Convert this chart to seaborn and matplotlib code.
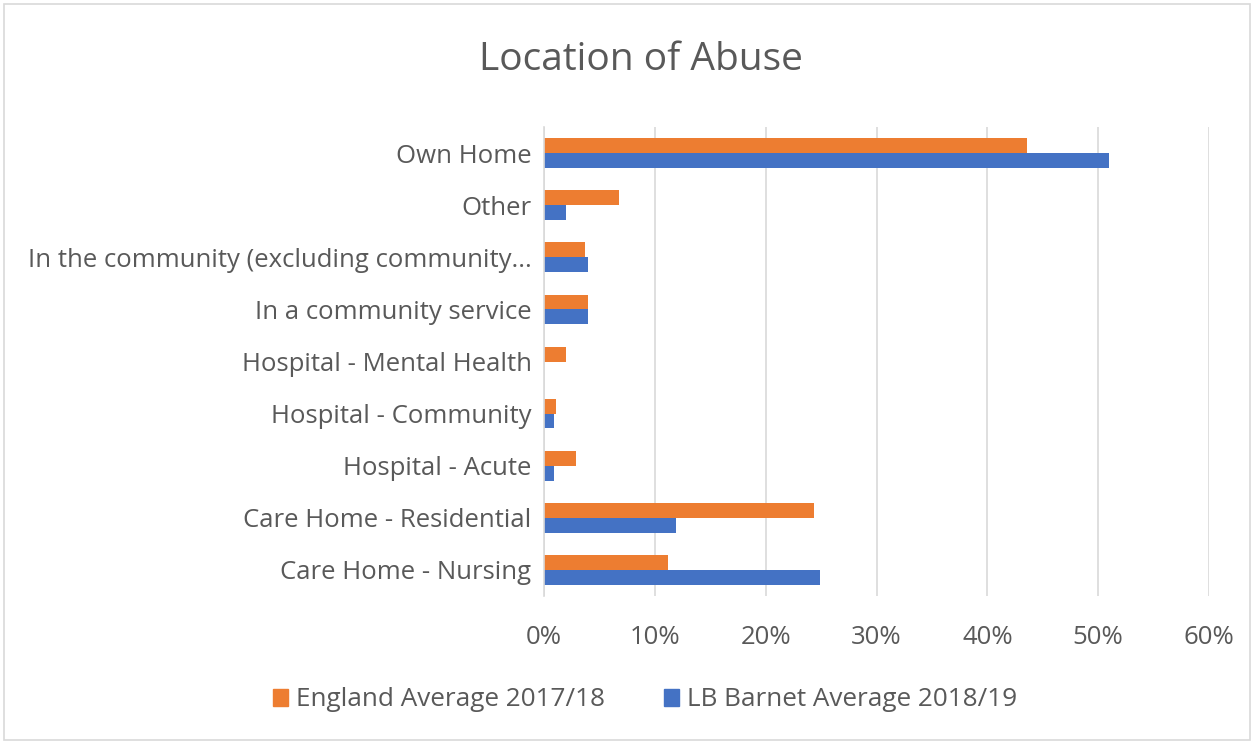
import matplotlib
matplotlib.use("Agg")
import matplotlib.pyplot as plt
import matplotlib.patches as mpatches
from matplotlib.ticker import PercentFormatter, MultipleLocator
import pandas as pd
import seaborn as sns

locations = [
    "Own Home",
    "Other",
    "In the community (excluding community...",
    "In a community service",
    "Hospital - Mental Health",
    "Hospital - Community",
    "Hospital - Acute",
    "Care Home - Residential",
    "Care Home - Nursing",
]
england_2017_18 = [43.6, 6.8, 3.7, 4.0, 2.0, 1.1, 2.9, 24.4, 11.2]
barnet_2018_19 = [51.0, 2.0, 4.0, 4.0, 0.0, 0.9, 0.9, 11.9, 24.9]
series_names = ["England Average 2017/18", "LB Barnet Average 2018/19"]
colors = ["#ED7D31", "#4472C4"]

df = pd.DataFrame({
    "Location": locations * 2,
    "Share": england_2017_18 + barnet_2018_19,
    "Series": [series_names[0]] * len(locations) + [series_names[1]] * len(locations),
})

sns.set_theme(style="white")
plt.rcParams["font.family"] = ["Open Sans", "DejaVu Sans"]
text_color = "#595959"
label_size = 18.5

fig = plt.figure(figsize=(12.54, 7.44), dpi=100)
ax = fig.add_axes([544 / 1254, 1 - 596 / 744, (1209 - 544) / 1254, (596 - 127) / 744])

sns.barplot(
    data=df, y="Location", x="Share", hue="Series", orient="h",
    palette=colors, width=0.57, ax=ax, legend=False, saturation=1,
    linewidth=0,
)

ax.set_xlim(0, 60)
ax.set_ylim(len(locations) - 0.5, -0.5)
ax.xaxis.set_major_locator(MultipleLocator(10))
ax.xaxis.set_major_formatter(PercentFormatter(decimals=0))
ax.grid(axis="x", color="#D9D9D9", linewidth=1.2)
ax.set_axisbelow(True)
for side in ["top", "right", "bottom"]:
    ax.spines[side].set_visible(False)
ax.spines["left"].set_color("#D9D9D9")
ax.spines["left"].set_linewidth(1.2)
ax.set_xlabel("")
ax.set_ylabel("")
ax.tick_params(axis="y", length=0, pad=9, labelsize=label_size, labelcolor=text_color)
ax.tick_params(axis="x", length=0, pad=21, labelsize=label_size, labelcolor=text_color)

fig.text(641 / 1254, 1 - 60 / 744, "Location of Abuse", ha="center", va="center",
         fontsize=28, color=text_color)

handles = [mpatches.Patch(color=c, label=n) for c, n in zip(colors, series_names)]
fig.legend(handles=handles, loc="center", bbox_to_anchor=(645 / 1254, 1 - 700 / 744),
           ncol=2, frameon=False, fontsize=18.8, labelcolor=text_color,
           handlelength=0.6, handleheight=0.65, handletextpad=0.3, columnspacing=2.25)

fig.patches.append(mpatches.Rectangle((4 / 1254, 4 / 744), 1 - 8 / 1254, 1 - 8 / 744,
                                      transform=fig.transFigure, fill=False,
                                      edgecolor="#D9D9D9", linewidth=1.2))

fig.savefig("out.png", dpi=100, facecolor="white")
